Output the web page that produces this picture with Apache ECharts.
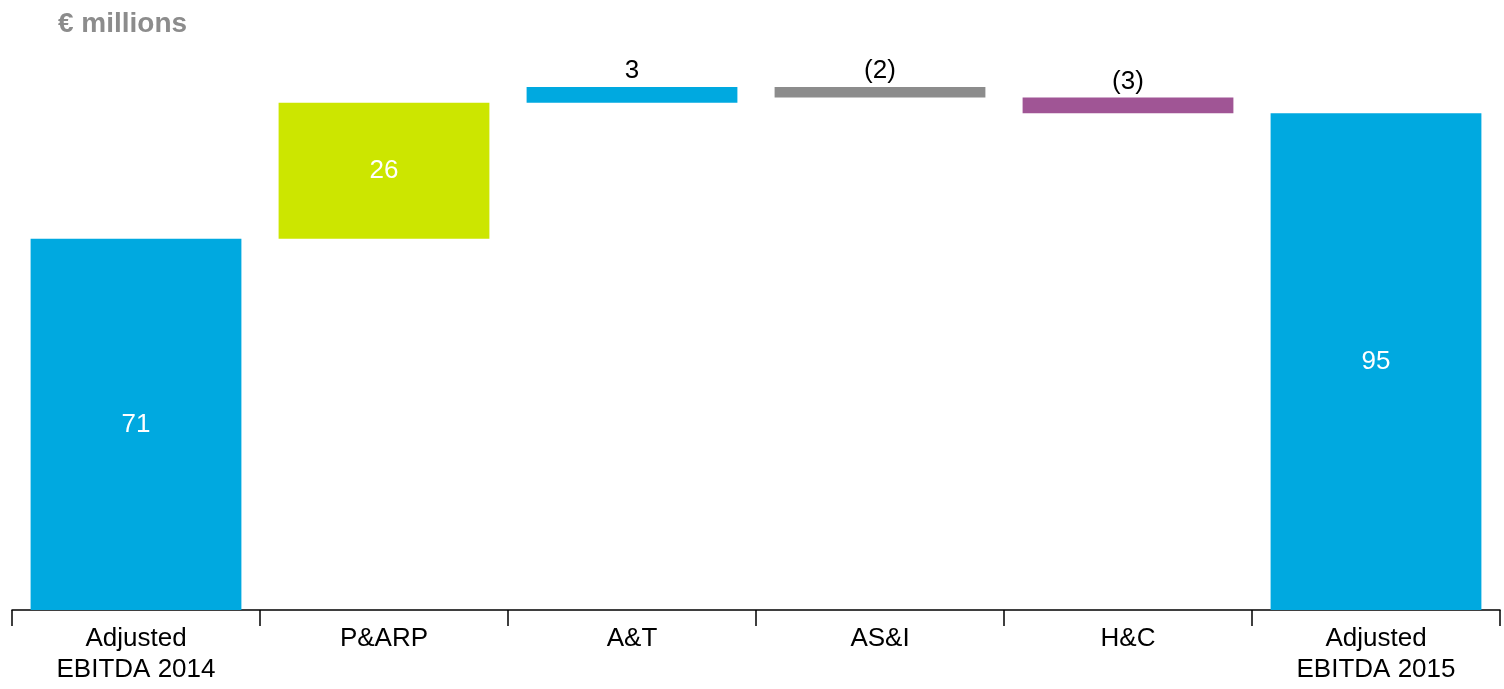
<!DOCTYPE html>
<html>
<head>
<meta charset="utf-8">
<script src="https://cdn.jsdelivr.net/npm/echarts@6/dist/echarts.min.js"></script>
<style>
html,body{margin:0;padding:0;background:#fff;}
#c{width:1504px;height:689px;}
</style>
</head>
<body>
<div id="c"></div>
<script>
const categories = ['Adjusted\nEBITDA 2014', 'P&ARP', 'A&T', 'AS&I', 'H&C', 'Adjusted\nEBITDA 2015'];
const changes = [71, 26, 3, -2, -3, 95];
const labels = ['71', '26', '3', '(2)', '(3)', '95'];
const isTotal = [true, false, false, false, false, true];
const colors = ['#00A9E0', '#CCE600', '#00A9E0', '#8C8C8C', '#A05595', '#00A9E0'];
const labelInside = [true, true, false, false, false, true];

// build waterfall base/height
const base = [], height = [];
let run = 0;
changes.forEach((v, i) => {
  if (isTotal[i]) { base.push(0); height.push(v); run = v; }
  else if (v >= 0) { base.push(run); height.push(v); run += v; }
  else { run += v; base.push(run); height.push(-v); }
});

const chart = echarts.init(document.getElementById('c'));
chart.setOption({
  animation: false,
  title: {
    text: '€ millions', left: 53, top: 5,
    textStyle: {fontFamily: 'Liberation Sans, Arial, sans-serif', fontSize: 28, fontWeight: 'bold', color: '#8C8C8C'}
  },
  grid: {left: 12, right: 4, top: 87, bottom: 79},
  xAxis: {
    type: 'category', data: categories,
    axisLine: {lineStyle: {color: '#000', width: 1.5}},
    axisTick: {show: true, length: 16, lineStyle: {color: '#000', width: 1.5}},
    axisLabel: {
      interval: 0, margin: 13, color: '#000', fontSize: 26, lineHeight: 31,
      fontFamily: 'Liberation Sans, Arial, sans-serif'
    }
  },
  yAxis: {type: 'value', min: 0, max: 100, show: false, splitLine: {show: false}},
  series: [
    {
      type: 'bar', stack: 'w', data: base, barWidth: '85%',
      itemStyle: {color: 'transparent'}, silent: true
    },
    {
      type: 'bar', stack: 'w', barWidth: '85%',
      data: height.map((h, i) => ({
        value: h,
        itemStyle: {color: colors[i]},
        label: {
          show: true,
          position: labelInside[i] ? 'inside' : 'top',
          distance: 3,
          formatter: labels[i],
          color: labelInside[i] ? '#fff' : '#000',
          fontSize: 26,
          fontFamily: 'Liberation Sans, Arial, sans-serif'
        }
      }))
    }
  ]
});
</script>
</body>
</html>
